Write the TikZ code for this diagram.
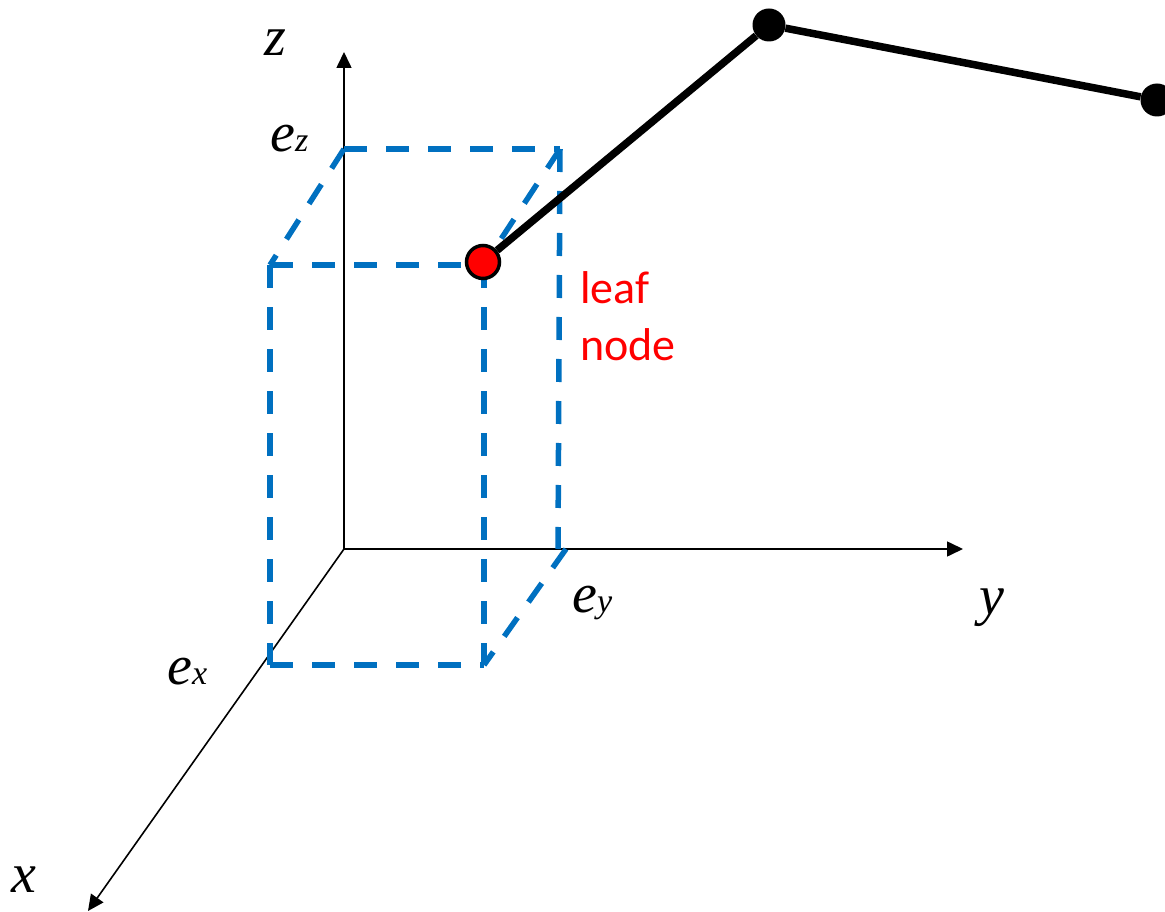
\documentclass[tikz,border=0pt]{standalone}
\usepackage{fontspec}
\setmainfont{Liberation Serif}
\newfontfamily\calibrifont{Carlito}
\usetikzlibrary{arrows.meta}
\definecolor{boxblue}{RGB}{0,112,192}
\tikzset{
  axis/.style={line width=1.6pt, -{Triangle[length=16pt,width=15pt]}},
  boxline/.style={draw=boxblue, line width=5.5pt, dash pattern=on 23pt off 19pt},
  lab/.style={inner sep=0pt, anchor=base west, font=\itshape\fontsize{56}{56}\selectfont},
  elab/.style={inner sep=0pt, anchor=base west, font=\itshape\fontsize{56}{56}\selectfont},
  leaftext/.style={inner sep=0pt, anchor=base west, text=red, font=\calibrifont\fontsize{46}{46}\selectfont},
  blackdot/.style={circle, fill=black, inner sep=0pt, minimum size=33pt},
  reddot/.style={circle, fill=red, draw=black, line width=3.5pt, inner sep=0pt, minimum size=33pt},
  tree/.style={line width=7.5pt}
}
\begin{document}
\begin{tikzpicture}[x=1pt,y=-1pt]
\useasboundingbox (0,0) rectangle (1165,912);
% axes
\coordinate (O) at (344,549);
\coordinate (zend) at (344,52);
\coordinate (yend) at (963,549);
\coordinate (xend) at (88,911);
\draw[axis] (O) -- (zend);
\draw[axis] (O) -- (yend);
\draw[axis] (O) -- (xend);
% box corners
\coordinate (bTL) at (344,149);
\coordinate (bTR) at (560,149);
\coordinate (bBR) at (558,549);
\coordinate (bBRd) at (566,549);
\coordinate (fTL) at (270,265);
\coordinate (fTR) at (484,265);
\coordinate (fBL) at (270,665);
\coordinate (fBR) at (484,665);
\draw[boxline] (bTL) -- (bTR);
\draw[boxline] (bTR) -- (bBR);
\draw[boxline] (bTL) -- (fTL);
\draw[boxline] (bTR) -- (fTR);
\draw[boxline] (bBRd) -- (fBR);
\draw[boxline] (fTL) -- (fBL);
\draw[boxline] (fBL) -- (fBR);
\draw[boxline] (fTL) -- (fTR);
\draw[boxline] (fTR) -- (fBR);
% tree
\node[reddot] (leaf) at (483,262) {};
\node[blackdot] (n1) at (769,25) {};
\node[blackdot] (n2) at (1157,100) {};
\draw[tree] (leaf) -- (n1) -- (n2);
% labels
\node[lab] (zl) at (264,56) {z};
\node[lab] (yl) at (979,614) {y};
\node[lab] (xl) at (11,892) {x};
\node[elab] (ez) at (270,152) {e{\fontsize{34}{34}\selectfont z}};
\node[elab] (ey) at (572,612) {e{\fontsize{34}{34}\selectfont y}};
\node[elab] (ex) at (167,684) {e{\fontsize{34}{34}\selectfont x}};
\node[leaftext] (t1) at (580,303) {leaf};
\node[leaftext] (t2) at (580,360) {node};
\end{tikzpicture}
\end{document}
